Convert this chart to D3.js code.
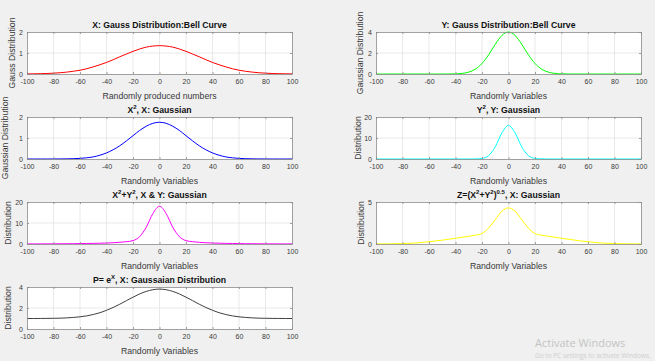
<!DOCTYPE html>
<html>
<head>
<meta charset="utf-8">
<script src="https://cdn.jsdelivr.net/npm/d3@7"></script>
<style>
  body { margin: 0; background: #f0f0f0; }
  svg { display: block; font-family: "Liberation Sans", Arial, sans-serif; }
</style>
</head>
<body>
<svg></svg>
<script>
let width = 655
let height = 361

// sample positions shared by every curve
const xs = [-100, -95, -90, -85, -80, -75, -70, -65, -60, -55, -50, -45, -40, -35, -30, -25, -20, -15, -10, -5,
    0, 5, 10, 15, 20, 25, 30, 35, 40, 45, 50, 55, 60, 65, 70, 75, 80, 85, 90, 95, 100]
const xTicks = [-100, -80, -60, -40, -20, 0, 20, 40, 60, 80, 100]

// values
const gaussX = [0.005, 0.009, 0.015, 0.024, 0.04, 0.06, 0.09, 0.13, 0.18, 0.25, 0.34, 0.44, 0.55, 0.68, 0.82, 0.95, 1.08, 1.19, 1.28, 1.33,
    1.35, 1.33, 1.28, 1.19, 1.08, 0.95, 0.82, 0.68, 0.55, 0.44, 0.34, 0.25, 0.18, 0.13, 0.09, 0.06, 0.04, 0.024, 0.015, 0.009, 0.005]
const gaussY = [0, 0, 0, 0, 0, 0, 0, 0, 0, 0, 0, 0.003, 0.015, 0.057, 0.18, 0.46, 1.0, 1.83, 2.83, 3.67,
    4.0, 3.67, 2.83, 1.83, 1.0, 0.46, 0.18, 0.057, 0.015, 0.003, 0, 0, 0, 0, 0, 0, 0, 0, 0, 0, 0]
const xSquared = [0, 0, 0, 0, 0.001, 0.003, 0.007, 0.015, 0.03, 0.057, 0.10, 0.18, 0.29, 0.44, 0.63, 0.86, 1.11, 1.36, 1.56, 1.70,
    1.75, 1.70, 1.56, 1.36, 1.11, 0.86, 0.63, 0.44, 0.29, 0.18, 0.10, 0.057, 0.03, 0.015, 0.007, 0.003, 0.001, 0, 0, 0, 0]
const ySquared = [0, 0, 0, 0, 0, 0, 0, 0, 0, 0, 0, 0, 0, 0, 0.005, 0.03, 0.27, 1.6, 5.8, 12.4,
    16, 12.4, 5.8, 1.6, 0.27, 0.03, 0.005, 0, 0, 0, 0, 0, 0, 0, 0, 0, 0, 0, 0, 0, 0]
const sumSquares = [0.03, 0.04, 0.05, 0.06, 0.08, 0.1, 0.12, 0.15, 0.2, 0.25, 0.3, 0.37, 0.45, 0.6, 0.8, 1.1, 1.6, 3.5, 8, 14.5,
    18, 14.5, 8, 3.5, 1.6, 1.1, 0.8, 0.6, 0.45, 0.37, 0.3, 0.25, 0.2, 0.15, 0.12, 0.1, 0.08, 0.06, 0.05, 0.04, 0.03]
const zRoot = [0.01, 0.01, 0.02, 0.03, 0.05, 0.08, 0.12, 0.19, 0.27, 0.36, 0.46, 0.57, 0.68, 0.8, 0.92, 1.05, 1.25, 1.9, 2.9, 3.9,
    4.3, 3.9, 2.9, 1.9, 1.25, 1.05, 0.92, 0.8, 0.68, 0.57, 0.46, 0.36, 0.27, 0.19, 0.12, 0.08, 0.05, 0.03, 0.02, 0.01, 0.01]
const expX = [1.0, 1.0, 1.005, 1.01, 1.02, 1.03, 1.06, 1.10, 1.16, 1.25, 1.38, 1.55, 1.78, 2.05, 2.36, 2.70, 3.03, 3.34, 3.58, 3.74,
    3.8, 3.74, 3.58, 3.34, 3.03, 2.70, 2.36, 2.05, 1.78, 1.55, 1.38, 1.25, 1.16, 1.10, 1.06, 1.03, 1.02, 1.01, 1.005, 1.0, 1.0]

let panels = [
    { col: 0, row: 0, values: gaussX, yMax: 2, yTicks: [0, 1, 2], color: '#ff0000',
      title: [['X: Gauss Distribution:Bell Curve']], xLabel: 'Randomly produced numbers', yLabel: 'Gauss Distribution', yLabelX: 12 },
    { col: 0, row: 1, values: xSquared, yMax: 2, yTicks: [0, 1, 2], color: '#0000ff',
      title: [['X'], ['2', 'sup'], [', X: Gaussian']], xLabel: 'Randomly Variables', yLabel: 'Gaussian Distribution', yLabelX: 5 },
    { col: 0, row: 2, values: sumSquares, yMax: 20, yTicks: [0, 10, 20], color: '#ff00ff',
      title: [['X'], ['2', 'sup'], ['+Y'], ['2', 'sup'], [', X & Y: Gaussian']], xLabel: 'Randomly Variables', yLabel: 'Distribution', yLabelX: 8 },
    { col: 0, row: 3, values: expX, yMax: 4, yTicks: [0, 2, 4], color: '#404040',
      title: [['P= e'], ['X', 'sup'], [', X: Gaussaian Distribution']], xLabel: 'Randomly Variables', yLabel: 'Distribution', yLabelX: 8 },
    { col: 1, row: 0, values: gaussY, yMax: 4, yTicks: [0, 2, 4], color: '#00ff00',
      title: [['Y: Gauss Distribution:Bell Curve']], xLabel: 'Randomly Variables', yLabel: 'Gaussian Distribution', yLabelX: 360 },
    { col: 1, row: 1, values: ySquared, yMax: 20, yTicks: [0, 10, 20], color: '#00ffff',
      title: [['Y'], ['2', 'sup'], [', Y: Gaussian']], xLabel: 'Randomly Variables', yLabel: 'Distribution', yLabelX: 358 },
    { col: 1, row: 2, values: zRoot, yMax: 5, yTicks: [0, 5], color: '#ffff00',
      title: [['Z=(X'], ['2', 'sup'], ['+Y'], ['2', 'sup'], [')'], ['0.5', 'sup'], [', X: Gaussian']], xLabel: 'Randomly Variables', yLabel: 'Distribution', yLabelX: 361 }
]

let colLeft = [27, 376]
let plotWidth = 265
let rowTop = [32, 117, 202, 287]
let plotHeight = 42
let plain = d => String(d)

let svg = d3.select('svg')
    .attr('width', width)
    .attr('height', height)

svg.append('rect')
    .attr('width', width).attr('height', height)
    .attr('fill', '#f0f0f0')

panels.forEach(p => {
    let left = colLeft[p.col]
    let top = rowTop[p.row]
    let x = d3.scaleLinear().domain([-100, 100]).range([left, left + plotWidth])
    let y = d3.scaleLinear().domain([0, p.yMax]).range([top + plotHeight, top])
    let g = svg.append('g')

    g.append('rect')
        .attr('x', left).attr('y', top)
        .attr('width', plotWidth).attr('height', plotHeight)
        .attr('fill', '#fff')

    // grid
    g.append('g').selectAll('line')
        .data(xTicks.slice(1, -1)).enter()
        .append('line')
        .attr('x1', d => x(d)).attr('x2', d => x(d))
        .attr('y1', top).attr('y2', top + plotHeight)
        .attr('stroke', '#e3e3e3').attr('stroke-width', 0.8)
    g.append('g').selectAll('line')
        .data(p.yTicks.slice(1, -1)).enter()
        .append('line')
        .attr('x1', left).attr('x2', left + plotWidth)
        .attr('y1', d => y(d)).attr('y2', d => y(d))
        .attr('stroke', '#e3e3e3').attr('stroke-width', 0.8)

    let line = d3.line()
        .x((d, i) => x(xs[i]))
        .y(d => y(d))
        .curve(d3.curveMonotoneX)
    g.append('path')
        .datum(p.values)
        .attr('d', line)
        .attr('fill', 'none')
        .attr('stroke', p.color)
        .attr('stroke-width', 1)

    // axes with inward ticks, box on
    let bottom = g.append('g')
        .attr('transform', `translate(0,${top + plotHeight})`)
        .call(d3.axisBottom(x).tickValues(xTicks).tickFormat(plain).tickSizeInner(-2).tickSizeOuter(0).tickPadding(5))
    let topAx = g.append('g')
        .attr('transform', `translate(0,${top})`)
        .call(d3.axisTop(x).tickValues(xTicks).tickSizeInner(-2).tickSizeOuter(0).tickFormat(''))
    let leftAx = g.append('g')
        .attr('transform', `translate(${left},0)`)
        .call(d3.axisLeft(y).tickValues(p.yTicks).tickFormat(plain).tickSizeInner(-2).tickSizeOuter(0).tickPadding(4))
    let rightAx = g.append('g')
        .attr('transform', `translate(${left + plotWidth},0)`)
        .call(d3.axisRight(y).tickValues(p.yTicks).tickSizeInner(-2).tickSizeOuter(0).tickFormat(''))
    ;[bottom, topAx, leftAx, rightAx].forEach(a => {
        a.select('.domain').attr('stroke', '#8a8a8a').attr('stroke-width', 0.8)
        a.selectAll('.tick line').attr('stroke', '#8a8a8a').attr('stroke-width', 0.8)
        a.selectAll('.tick text')
            .attr('fill', '#3a3a3a')
            .style('font-size', '7px')
            .style('font-family', '"Liberation Sans", Arial, sans-serif')
    })

    // title with superscripts
    let title = g.append('text')
        .attr('x', left + plotWidth / 2)
        .attr('y', top - 4.5)
        .attr('text-anchor', 'middle')
        .attr('font-weight', 'bold')
        .attr('font-size', '8.7px')
        .attr('fill', '#111')
    let raised = false
    p.title.forEach(part => {
        let sup = part[1] === 'sup'
        let t = title.append('tspan').text(part[0])
        if (sup && !raised) { t.attr('dy', -3.2); raised = true }
        if (!sup && raised) { t.attr('dy', 3.2); raised = false }
        if (sup) t.attr('font-size', '6px')
    })

    g.append('text')
        .attr('x', left + plotWidth / 2)
        .attr('y', top + plotHeight + 24.5)
        .attr('text-anchor', 'middle')
        .attr('font-size', '8.7px')
        .attr('fill', '#3a3a3a')
        .text(p.xLabel)

    g.append('text')
        .attr('transform', `translate(${p.yLabelX},${top + plotHeight / 2}) rotate(-90)`)
        .attr('text-anchor', 'middle')
        .attr('dominant-baseline', 'central')
        .attr('font-size', '8.7px')
        .attr('fill', '#3a3a3a')
        .text(p.yLabel)
})

// OS watermark in the screenshot
svg.append('text')
    .attr('x', 535).attr('y', 347)
    .attr('font-family', '"Open Sans", "Noto Sans", sans-serif')
    .attr('font-size', '11px')
    .attr('fill', '#c4c4c4')
    .text('Activate Windows')
svg.append('text')
    .attr('x', 535).attr('y', 358)
    .attr('font-family', '"Open Sans", "Noto Sans", sans-serif')
    .attr('font-size', '6.5px')
    .attr('fill', '#cfcfcf')
    .text('Go to PC settings to activate Windows.')
</script>
</body>
</html>
